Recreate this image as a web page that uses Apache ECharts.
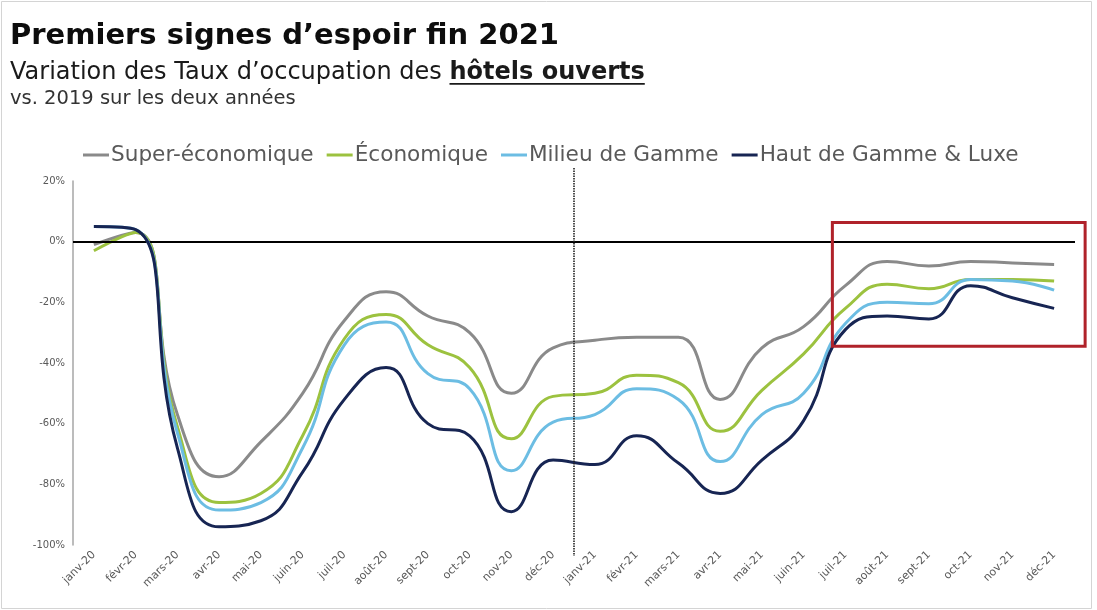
<!DOCTYPE html>
<html><head><meta charset="utf-8">
<script src="https://cdn.jsdelivr.net/npm/echarts@6.0.0/dist/echarts.min.js"></script>
<style>html,body{margin:0;padding:0;background:#fff}#c{width:1097px;height:610px}</style>
</head><body><div id="c"></div>
<script>
const categories = ['janv-20','févr-20','mars-20','avr-20','mai-20','juin-20','juil-20','août-20','sept-20','oct-20','nov-20','déc-20',
  'janv-21','févr-21','mars-21','avr-21','mai-21','juin-21','juil-21','août-21','sept-21','oct-21','nov-21','déc-21'];
const seriesNames = ['Super-économique','Économique','Milieu de Gamme','Haut de Gamme & Luxe'];
const superEco  = [-1, 3, -57, -77.5, -66, -50, -26, -16.5, -24.5, -30, -50, -35, -32.5, -31.5, -31.5, -52, -35, -28, -14.5, -6.5, -8, -6.5, -7, -7.5];
const economique = [-3, 3, -61, -86, -83, -64, -32, -24, -34, -41.5, -65, -51, -50, -44, -46.5, -62.5, -49, -37, -22, -14, -15.5, -12.5, -12.5, -13];
const milieu    = [5, 4, -63, -88.5, -86, -68, -34, -26.5, -43.5, -48.5, -75.5, -59.5, -57, -48.5, -52, -72.5, -57, -50, -27, -20, -20.5, -12.5, -13, -16];
const hautLuxe  = [5, 4, -68, -94, -92, -76, -52, -41.5, -60, -64, -89, -72, -73.5, -64, -73, -83, -72, -59, -29, -24.5, -25.5, -14.5, -18.5, -22];
const yTicks = [20, 0, -20, -40, -60, -80, -100];

const colors = ['#8a8a8a', '#9cc23f', '#6cbde3', '#172553'];
const seriesData = [superEco, economique, milieu, hautLuxe];

const chart = echarts.init(document.getElementById('c'));
const series = seriesNames.map((n, i) => ({
  name: n, type: 'line', data: seriesData[i], smooth: 0.5, showSymbol: false,
  lineStyle: {color: colors[i], width: 3}, itemStyle: {color: colors[i]}, z: 3 + i,
  markLine: i === 0 ? {silent: true, symbol: 'none', label: {show: false},
    lineStyle: {color: '#000', width: 2, type: 'solid'}, data: [{yAxis: 0}]} : undefined
}));

chart.setOption({
  animation: false,
  backgroundColor: '#fff',
  legend: {
    data: seriesNames, left: 78, top: 139, icon: 'rect', itemWidth: 26, itemHeight: 3, itemGap: 13,
    textStyle: {fontFamily: 'DejaVu Sans', fontSize: 21.6, color: '#595959', padding: [0, 0, 0, -3]}
  },
  grid: {left: 73, right: 22, top: 181, bottom: 65},
  xAxis: {
    type: 'category', data: categories, boundaryGap: true,
    axisLine: {show: false}, axisTick: {show: false},
    axisLabel: {interval: 0, rotate: 45, fontSize: 11, color: '#595959', fontFamily: 'DejaVu Sans', margin: 8}
  },
  yAxis: {
    type: 'value', min: -100, max: 20, interval: 20,
    axisLine: {show: true, lineStyle: {color: '#a6a6a6', width: 1.5}}, axisTick: {show: false}, splitLine: {show: false},
    axisLabel: {formatter: '{value}%', fontSize: 10, color: '#595959', fontFamily: 'DejaVu Sans', margin: 8}
  },
  series: series
});

function drawExtras() {
  const ctx = document.createElement('canvas').getContext('2d');
  const subFont = '24px "DejaVu Sans"';
  const subBold = 'bold 24px "DejaVu Sans"';
  ctx.font = subFont;
  const prefix = 'Variation des Taux d’occupation des ';
  const wPrefix = ctx.measureText(prefix).width;
  ctx.font = subBold;
  const wBold = ctx.measureText('hôtels ouverts').width;

  const xMid = (chart.convertToPixel({xAxisIndex: 0}, 'déc-20') + chart.convertToPixel({xAxisIndex: 0}, 'janv-21')) / 2;
  const xJuil = chart.convertToPixel({xAxisIndex: 0}, 'juil-21');
  const xDec = chart.convertToPixel({xAxisIndex: 0}, 'déc-21');
  const yTop = chart.convertToPixel({yAxisIndex: 0}, 6.3);
  const yBot = chart.convertToPixel({yAxisIndex: 0}, -34.5);
  const yMax = chart.convertToPixel({yAxisIndex: 0}, 20);
  const yMin = chart.convertToPixel({yAxisIndex: 0}, -100);

  chart.setOption({graphic: [
    {type: 'rect', shape: {x: 1.5, y: 1.5, width: 1090, height: 607}, style: {fill: 'none', stroke: '#d4d4d4', lineWidth: 1}, silent: true},
    {type: 'text', left: 10, top: 22, style: {text: 'Premiers signes d’espoir fin 2021', font: 'bold 29px "DejaVu Sans"', fill: '#0d0d0d'}},
    {type: 'text', left: 10, top: 61, style: {text: 'Variation des Taux d’occupation des {b|hôtels ouverts}', font: subFont, fill: '#1a1a1a',
      rich: {b: {fontWeight: 'bold', fontSize: 24, fontFamily: 'DejaVu Sans', fill: '#1a1a1a'}}}},
    {type: 'rect', shape: {x: 10 + wPrefix, y: 83, width: wBold, height: 1.8}, style: {fill: '#1a1a1a'}, silent: true},
    {type: 'text', left: 10, top: 89, style: {text: 'vs. 2019 sur les deux années', font: '19.5px "DejaVu Sans"', fill: '#333'}},
    {type: 'line', shape: {x1: xMid, y1: yMax - 13, x2: xMid, y2: yMin + 11}, style: {stroke: '#222', lineWidth: 1.6, lineDash: [1.5, 1]}, silent: true, z: 10},
    {type: 'rect', shape: {x: xJuil - 13, y: yTop, width: (xDec + 31) - (xJuil - 13), height: yBot - yTop},
      style: {fill: 'none', stroke: '#b0222a', lineWidth: 3}, silent: true, z: 10}
  ]});
}
drawExtras();
</script>
</body></html>
